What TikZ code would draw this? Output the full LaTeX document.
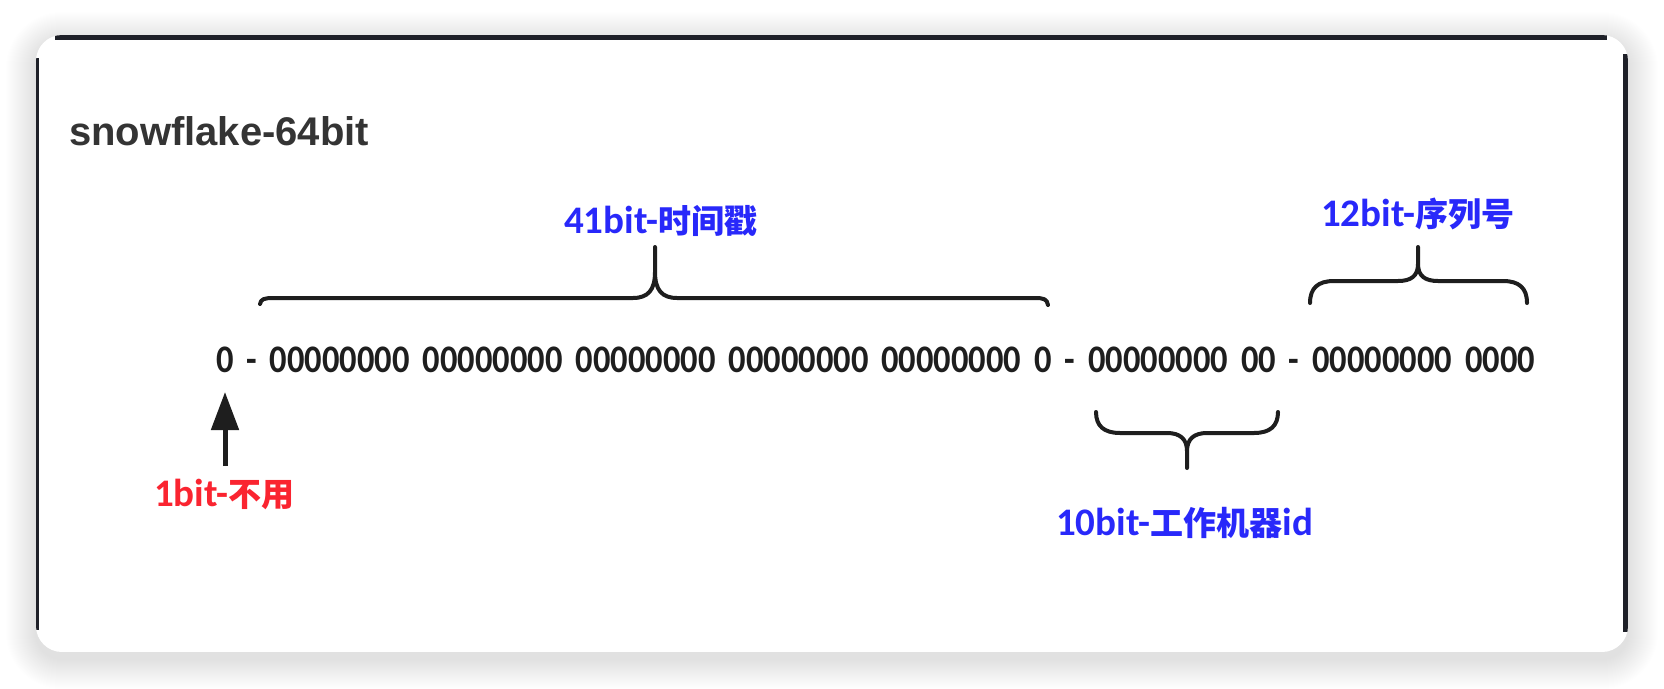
\documentclass[tikz,border=0pt]{standalone}
\usepackage{fontspec}
\setmainfont{Liberation Sans}
\newfontfamily\bitfont{Carlito}[FakeStretch=0.885]
\newfontfamily\labfont{Carlito}
\newfontfamily\cjkfont{Noto Sans CJK SC}
\usetikzlibrary{arrows.meta}
\definecolor{labblue}{RGB}{40,40,250}
\definecolor{labred}{RGB}{250,36,48}
\definecolor{inkdark}{RGB}{30,30,30}
\definecolor{titlegray}{RGB}{52,52,52}
\definecolor{framedark}{RGB}{30,32,40}
\newcommand\mylat[1]{{\labfont\bfseries\fontsize{39}{39}\selectfont #1}}
\newcommand\myhan[1]{{\cjkfont\bfseries\fontsize{33}{33}\selectfont #1}}
\tikzset{
  txt/.style={anchor=base west, inner sep=0pt, outer sep=0pt},
  bracestyle/.style={draw=inkdark, line width=4pt, line cap=round, line join=round},
}
\begin{document}
\begin{tikzpicture}[x=1pt,y=-1pt]
\useasboundingbox (0,0) rectangle (1664,688);
\fill[white] (0,0) rectangle (1664,688);
% shadow
\foreach \i in {1,...,30}{
  \pgfmathsetmacro\rr{26+\i}
  \fill[black, opacity=0.005, rounded corners=\rr pt]
    ({36-\i},{35-\i+7}) rectangle ({1628+\i},{652+\i+7});
}
% card
\begin{scope}
  \clip[rounded corners=26pt] (36,35) rectangle (1628,652);
  \fill[white] (36,35) rectangle (1628,652);
  \fill[framedark] (55,35) rectangle (1607,40);
  \fill[framedark] (36,58) rectangle (39,630);
  \fill[framedark] (1623,54) rectangle (1628,632);
\end{scope}
% title
\node[txt, text=titlegray, font=\bfseries\fontsize{40}{40}\selectfont] (title) at (69,145) {snowflake-64bit};
% bit string
\node[txt, text=inkdark] (bits) at (216,372)
  {\bitfont\bfseries\fontsize{39}{39}\selectfont\spaceskip=12.9pt\xspaceskip=12.9pt\relax 0 - 00000000 00000000 00000000 00000000 00000000 0 - 00000000 00 - 00000000 0000};
% labels
\node[txt, text=labblue] (l41) at (564,233) {\mylat{41bit-}\myhan{时间戳}};
\node[txt, text=labblue] (l12) at (1321,226) {\mylat{12bit-}\myhan{序列号}};
\node[txt, text=labblue] (l10) at (1056,535) {\mylat{10bit-}\myhan{工作机器}\mylat{id}};
\node[txt, text=labred] (l1) at (154,506) {\mylat{1bit-}\myhan{不用}};
% arrow
\coordinate (atail) at (225,466);
\coordinate (ahead) at (225,392);
\draw[draw=inkdark, fill=inkdark, line width=5pt, -{Triangle[length=38pt,width=27pt]}] (atail) -- (ahead);
% brace 41
\draw[bracestyle] (260,304) .. controls (261,299) and (264,298) .. (274,298)
  -- (633,298) .. controls (648,298) and (655,290) .. (655,272) -- (655,247)
  -- (655,272) .. controls (655,290) and (662,298) .. (677,298)
  -- (1034,298) .. controls (1044,298) and (1047,299) .. (1048,305);
% brace 12
\draw[bracestyle] (1310,303) .. controls (1310,288) and (1318,281) .. (1334,281)
  -- (1398,281) .. controls (1411,281) and (1418,276) .. (1418,264) -- (1418,247)
  -- (1418,264) .. controls (1418,276) and (1425,281) .. (1438,281)
  -- (1503,281) .. controls (1519,281) and (1527,288) .. (1527,303);
% brace 10
\draw[bracestyle] (1096,412) .. controls (1096,426) and (1104,433) .. (1120,433)
  -- (1167,433) .. controls (1180,433) and (1187,439) .. (1187,451) -- (1187,468)
  -- (1187,451) .. controls (1187,439) and (1194,433) .. (1207,433)
  -- (1254,433) .. controls (1270,433) and (1278,426) .. (1278,412);
\end{tikzpicture}
\end{document}
